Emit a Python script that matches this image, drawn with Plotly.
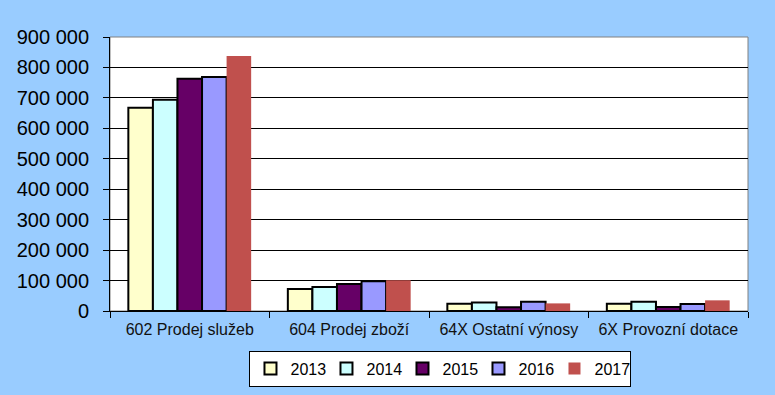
import plotly.graph_objects as go

categories = ["602 Prodej služeb", "604 Prodej zboží", "64X Ostatní výnosy", "6X Provozní dotace"]
years = ["2013", "2014", "2015", "2016", "2017"]
values = {
    "2013": [668000, 72000, 24000, 24000],
    "2014": [694000, 79000, 28000, 30000],
    "2015": [763000, 89000, 12000, 13000],
    "2016": [769000, 98000, 30000, 23000],
    "2017": [838000, 101000, 25000, 35000],
}
colors = {"2013": "#FFFFCC", "2014": "#CCFFFF", "2015": "#660066", "2016": "#9999FF", "2017": "#C0504D"}
outline = {"2013": 2, "2014": 2, "2015": 2, "2016": 2, "2017": 0}

fig = go.Figure()
for y in years:
    fig.add_trace(go.Bar(
        name=y, x=categories, y=values[y],
        marker=dict(color=colors[y], line=dict(color="black", width=outline[y])),
    ))

fig.update_layout(
    width=775, height=395,
    paper_bgcolor="#99CCFF", plot_bgcolor="white",
    margin=dict(l=110, r=27, t=37, b=84, autoexpand=False),
    barmode="group", bargap=0.23, bargroupgap=0,
    separators=", ",
    font=dict(family="Liberation Sans, Arial, sans-serif", color="black"),
    legend=dict(orientation="h", x=0.518, y=-0.21, xanchor="center", yanchor="middle",
                bgcolor="white", bordercolor="black", borderwidth=1,
                font=dict(size=16), itemwidth=30, traceorder="normal",
                entrywidth=31, entrywidthmode="pixels"),
    showlegend=True,
)
fig.update_yaxes(range=[0, 900000], dtick=100000, tickformat=",d",
                 showgrid=True, gridcolor="black", gridwidth=1,
                 ticks="outside", ticklen=6, tickcolor="black",
                 showline=True, linecolor="black", linewidth=1,
                 tickfont=dict(size=20), zeroline=False, automargin=False,
                 ticklabelstandoff=10)
fig.update_xaxes(tickson="boundaries", ticks="outside", ticklen=6, tickcolor="black",
                 showline=True, linecolor="black", linewidth=1, automargin=False,
                 tickfont=dict(size=16, color="#111111"), ticklabelstandoff=4)
fig.add_shape(type="rect", xref="paper", yref="paper", x0=0, y0=0, x1=1, y1=1,
              line=dict(color="#808080", width=1), layer="below")

fig.write_html("out.html", config={"displayModeBar": False},
               post_script="document.body.style.margin='0';document.body.style.background='#99CCFF';")
